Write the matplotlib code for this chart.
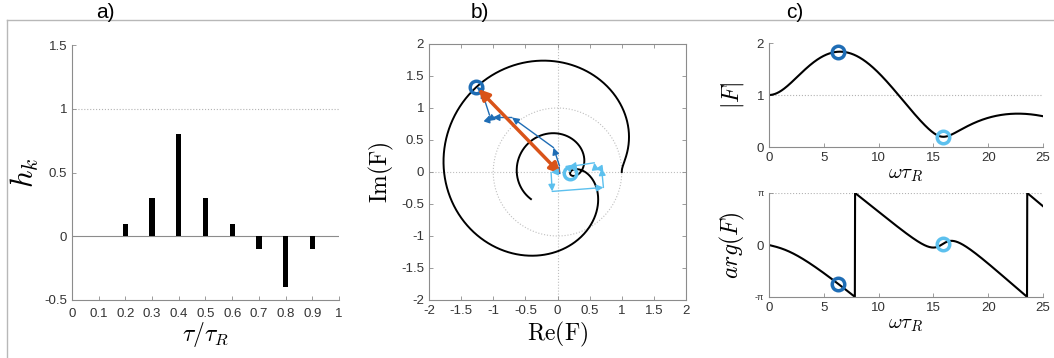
import numpy as np
import matplotlib
matplotlib.use("Agg")
import matplotlib.pyplot as plt
from matplotlib.lines import Line2D

plt.rcParams['font.family'] = ['Liberation Sans', 'DejaVu Sans']
plt.rcParams['mathtext.fontset'] = 'cm'

# impulse response taps
tau = [0.2, 0.3, 0.4, 0.5, 0.6, 0.7, 0.8, 0.9]
h = [0.1, 0.3, 0.8, 0.3, 0.1, -0.1, -0.4, -0.1]

# frequencies marked with circles (omega*tau_R)
w_marks = [6.28, 15.9]
mark_colors = ['#1f6db5', '#5cc0ee']
orange = '#d95319'
grey = '0.55'

# frequency response F(w) built from the taps
w = np.linspace(0, 25, 1201)
F = np.sum(np.array(h)[None, :] * np.exp(-1j * w[:, None] * np.array(tau)[None, :]), axis=1)

W, H = 1054, 358
fig = plt.figure(figsize=(W / 100, H / 100), dpi=100)


def style(ax, spines=('left', 'bottom')):
    for s in ax.spines:
        ax.spines[s].set_visible(s in spines)
        ax.spines[s].set_color(grey)
        ax.spines[s].set_linewidth(0.8)
    ax.tick_params(direction='in', length=3, width=0.6, color=grey,
                   labelsize=9.5, labelcolor='0.2')


def pos(l, t, r, b):
    return [l / W, 1 - b / H, (r - l) / W, (b - t) / H]


# a) taps
axa = fig.add_axes(pos(72, 45, 339, 300))
style(axa)
axa.bar(tau, h, width=0.02, color='black')
axa.axhline(0, color=grey, lw=0.8, zorder=0)
axa.axhline(1, color='0.7', lw=0.8, ls=':', zorder=0)
axa.set_xlim(0, 1)
axa.set_ylim(-0.5, 1.5)
axa.set_xticks(np.round(np.arange(0, 1.01, 0.1), 1))
axa.set_xticklabels(['0'] + ['%.1f' % v for v in np.arange(0.1, 0.95, 0.1)] + ['1'])
axa.set_yticks([-0.5, 0, 0.5, 1, 1.5])
axa.set_yticklabels(['-0.5', '0', '0.5', '1', '1.5'])
axa.tick_params(axis='x', pad=6)
axa.set_xlabel(r'$\tau/\tau_R$', fontsize=17, labelpad=0)
axa.set_ylabel(r'$h_k$', fontsize=22, labelpad=2)

# b) Nyquist plot
axb = fig.add_axes(pos(429, 44, 686, 300))
style(axb, spines=('left', 'bottom', 'top', 'right'))
axb.tick_params(top=True, right=True)
th = np.linspace(0, 2 * np.pi, 200)
axb.plot(np.cos(th), np.sin(th), color='0.75', lw=0.8, ls=':', zorder=0)
axb.axhline(0, color='0.75', lw=0.8, ls=':', zorder=0)
axb.axvline(0, color='0.75', lw=0.8, ls=':', zorder=0)
axb.plot(F.real, -F.imag, color='black', lw=1.4)

for wm, col in zip(w_marks, mark_colors):
    comp = np.array(h) * np.exp(1j * wm * np.array(tau))
    cum = np.concatenate([[0], np.cumsum(comp)])
    for k in range(1, len(cum)):
        axb.annotate('', xy=(cum[k].real, cum[k].imag),
                     xytext=(cum[k - 1].real, cum[k - 1].imag),
                     arrowprops=dict(arrowstyle='-|>', color=col, lw=1,
                                     mutation_scale=10, shrinkA=0, shrinkB=0))
    axb.plot(cum[-1].real, cum[-1].imag, 'o', mfc='none', mec=col, ms=9, mew=2.5)
    if wm == w_marks[0]:
        axb.annotate('', xy=(cum[-1].real, cum[-1].imag), xytext=(0.05, -0.03),
                     arrowprops=dict(arrowstyle='<|-|>', color=orange, lw=2.5,
                                     mutation_scale=16, shrinkA=0, shrinkB=2))

axb.set_xlim(-2, 2)
axb.set_ylim(-2, 2)
ticks = np.arange(-2, 2.01, 0.5)
labs = ['-2', '-1.5', '-1', '-0.5', '0', '0.5', '1', '1.5', '2']
axb.set_xticks(ticks)
axb.set_xticklabels(labs)
axb.set_yticks(ticks)
axb.set_yticklabels(labs)
axb.set_xlabel(r'$\mathrm{Re(F)}$', fontsize=17, labelpad=2)
axb.set_ylabel(r'$\mathrm{Im(F)}$', fontsize=17, labelpad=4)

# c) magnitude
axc = fig.add_axes(pos(769, 43, 1043, 147))
style(axc)
axc.axhline(1, color='0.7', lw=0.8, ls=':', zorder=0)
axc.plot(w, np.abs(F), color='black', lw=1.5)
for wm, col in zip(w_marks, mark_colors):
    axc.plot(wm, np.abs(np.interp(wm, w, F.real) + 1j * np.interp(wm, w, F.imag)),
             'o', mfc='none', mec=col, ms=9, mew=2.5)
axc.set_xlim(0, 25)
axc.set_ylim(0, 2)
axc.set_yticks([0, 1, 2])
axc.set_xticks([0, 5, 10, 15, 20, 25])
axc.set_xlabel(r'$\omega\tau_R$', fontsize=15, labelpad=1)
axc.set_ylabel(r'$|F|$', fontsize=17, labelpad=8)

# c) phase
axd = fig.add_axes(pos(769, 193, 1043, 297))
style(axd)
axd.axhline(np.pi, color='0.7', lw=0.8, ls=':', zorder=0)
axd.plot(w, np.angle(F), color='black', lw=1.5)
for wm, col in zip(w_marks, mark_colors):
    Fm = np.interp(wm, w, F.real) + 1j * np.interp(wm, w, F.imag)
    axd.plot(wm, np.angle(Fm), 'o', mfc='none', mec=col, ms=9, mew=2.5)
axd.set_xlim(0, 25)
axd.set_ylim(-np.pi, np.pi)
axd.set_yticks([-np.pi, 0, np.pi])
axd.set_yticklabels(['-π', '0', 'π'])
for lab in axd.get_yticklabels():
    if lab.get_text() != '0':
        lab.set_fontsize(6.5)
axd.set_xticks([0, 5, 10, 15, 20, 25])
axd.set_xlabel(r'$\omega\tau_R$', fontsize=15, labelpad=1)
axd.set_ylabel(r'$arg(F)$', fontsize=17, labelpad=6)

# frame lines and panel labels
fig.add_artist(Line2D([7 / W, 1], [1 - 20 / H] * 2, transform=fig.transFigure,
                      color='0.72', lw=1))
fig.add_artist(Line2D([7 / W, 7 / W], [0, 1 - 20 / H], transform=fig.transFigure,
                      color='0.72', lw=1))
for x, t in [(105, 'a)'), (480, 'b)'), (795, 'c)')]:
    fig.text(x / W, 1 - 12 / H, t, ha='center', va='center', fontsize=15)

fig.savefig('out.png', dpi=100)
